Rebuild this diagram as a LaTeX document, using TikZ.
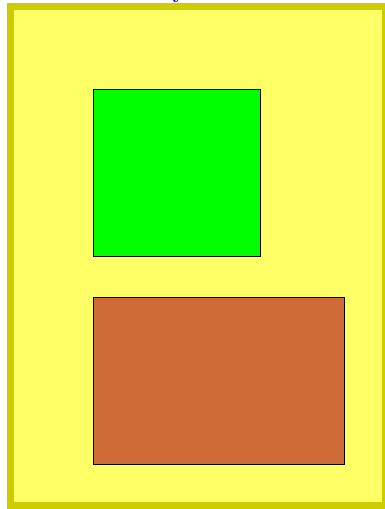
\documentclass[tikz,border=0pt]{standalone}
\definecolor{framecol}{RGB}{204,204,0}
\definecolor{panelfill}{RGB}{255,255,102}
\definecolor{greenfill}{RGB}{0,255,0}
\definecolor{brownfill}{RGB}{206,107,54}
\definecolor{titleblue}{RGB}{0,0,230}
\begin{document}
\begin{tikzpicture}[x=1pt,y=-1pt,
  panel/.style={draw=framecol,fill=panelfill,line width=7pt},
  boxa/.style={draw=black,line width=0.6pt},
]
\useasboundingbox (0,0) rectangle (384,509);
\fill[white] (0,0) rectangle (384,509);
\draw[panel] (10.5,6.5) rectangle (385.5,505.5);
\node[anchor=south,inner sep=0pt,text=titleblue,font=\bfseries\huge] (title) at (179,3) {y};
\node[boxa,fill=greenfill,anchor=north west,minimum width=167pt,minimum height=167pt,inner sep=0pt] (green) at (93,89) {};
\node[boxa,fill=brownfill,anchor=north west,minimum width=251pt,minimum height=167pt,inner sep=0pt] (brown) at (93,297) {};
\end{tikzpicture}
\end{document}
